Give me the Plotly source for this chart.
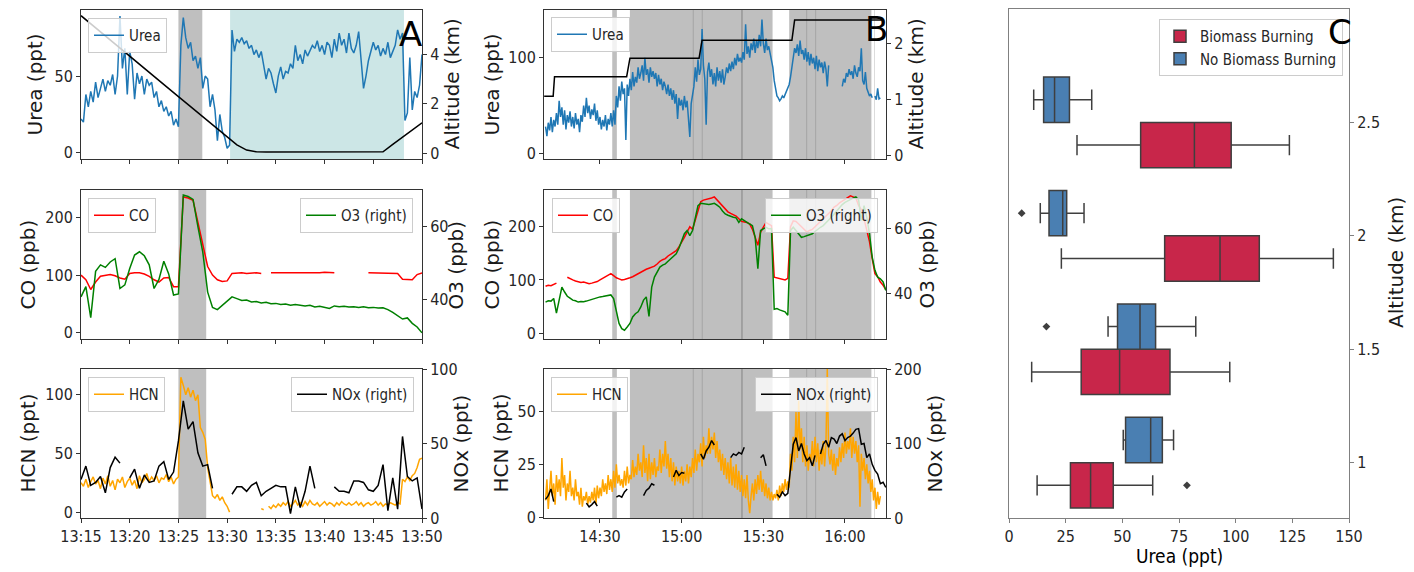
import pandas as pd
import plotly.graph_objects as go

W, H = 1414, 572
OFF = 8  # the page body margin shifts the figure by 8 px
DAY = "2019-08-03 "
FONT = "DejaVu Sans"
HFONT = "DejaVu Sans Condensed, DejaVu Sans"

# ---------------- Panel A (13:15-13:50) ----------------
A_START = "13:15:00"
# urea, every 15 s
a_urea = [22, 20, 38, 30, 40, 33, 46, 36, 42, 48,
          40, 47, 44, 51, 38, 50, 89, 55, 68, 38,
          66, 58, 35, 52, 45, 50, 38, 48, 44, 46,
          36, 40, 30, 34, 27, 30, 24, 27, 18, 22,
          17, 70, 88, 75, 68, 72, 60, 63, 55, 62,
          42, 50, 48, 30, 38, 28, 8, 25, 14, 10,
          3, 5, 80, 66, 74, 72, 75, 71, 73, 68,
          70, 64, 67, 62, 66, 58, 48, 55, 52, 45,
          39, 50, 56, 48, 53, 52, 58, 55, 70, 60,
          64, 58, 67, 63, 66, 70, 68, 73, 66, 70,
          64, 72, 70, 62, 74, 66, 78, 70, 74, 65,
          78, 68, 65, 70, 79, 58, 42, 50, 60, 66,
          72, 67, 70, 63, 68, 64, 72, 62, 66, 70,
          80, 74, 78, 21, 26, 62, 28, 40, 36, 44,
          64]
# altitude (km), every 1 min
a_alt = [5.55, 5.22, 4.9, 4.57, 4.24, 3.92, 3.59, 3.26, 2.94, 2.61, 2.28, 1.96,
         1.63, 1.3, 0.97, 0.65, 0.33, 0.12, 0.05,
         0.04, 0.04, 0.04, 0.04, 0.04, 0.04, 0.04, 0.04, 0.04, 0.04, 0.04, 0.04,
         0.05, 0.35, 0.65, 0.95, 1.22]
# CO (ppb), every 30 s
a_co = [100, 92, 75, 88, 98, 100, 101, 99, 95, 93,
        103, 104, 104, 102, 98, 92, 88, 95, 96, 80,
        80, 236, 234, 230, 190, 155, 115, 100, 92, 89,
        90, 103, 104, 104, 103, 104, 104, 103, None, 104,
        104, 103, 104, 104, 103, 104, 104, 103, 104, 104,
        105, 104, 104, None, None, None, None, None, None, 104,
        104, 103, 104, 104, 104, 103, 93, 92, 92, 101,
        104]
# O3 (ppb), every 30 s
a_o3 = [40.7, 43.5, 35.0, 47.7, 49.5, 48.8, 50.3, 51.2, 43.0, 44.0,
        48.5, 52.2, 53.1, 52.0, 49.5, 43.0, 45.5, 50.5, 47.0, 41.2,
        41.5, 68.7, 68.3, 67.5, 60.0, 53.0, 42.0, 37.8, 37.2, 38.3,
        39.5, 40.7, 40.2, 39.7, 39.8, 39.3, 39.4, 39.0, 39.2, 38.8,
        38.9, 38.6, 38.7, 38.4, 38.6, 38.3, 38.2, 38.4, 37.9, 38.1,
        37.7, 37.5, 38.2, 38.0, 38.1, 37.9, 38.0, 37.8, 38.0, 37.7,
        37.8, 37.6, 37.7, 37.2, 36.4, 35.5, 34.6, 34.9, 33.4, 32.4,
        30.8]
# HCN (ppt), every 15 s
a_hcn = [25, 22, 28, 21, 26, 30, 24, 27, 20, 29,
         24, 31, 22, 27, 19, 28, 25, 30, 21, 26,
         29, 23, 27, 20, 31, 25, 28, 33, 26, 30,
         27, 31, 25, 29, 28, 32, 26, 30, 24, 28,
         30, 115, 108, 100, 106, 98, 104, 95, 100, 72,
         68, 62, 38, 25, 14, 12, 15, 10, 13, 8,
         5, 0, None, None, None, None, None, None, None, None,
         None, None, None, None, 3, 2, None, 5, 3, 6,
         4, 7, 5, 8, 6, 9, 5, 7, 10, 6,
         8, 5, 9, 6, 10, 7, 6, 8, 5, 7,
         9, 6, 8, 7, 5, 8, 6, 9, 7, 6,
         8, 6, 7, 9, 6, 8, 5, 7, 8, 6,
         7, 9, 6, 8, 5, 7, 6, 8, 7, 6,
         8, 7, 28, 26, 30, 27, 31, 33, 38, 45,
         46]
# NOx (ppt), every 30 s
a_nox = [26, 35, 22, 24, 28, 17, 34, 41, 37, None,
         27, 33, 20, 29, 24, 25, 35, 38, 26, 31,
         52, 79, 60, 65, 44, 35, 36, 20, None, None,
         None, 16, 21, 21, 18, 22, 24, 15, 18, 20,
         22, 21, 21, 3, 21, 7, 18, 35, 20, None,
         None, None, 21, 18, 18, 17, 25, 25, 24, 19,
         18, 22, 36, 5, 27, 6, 55, 28, 25, 27,
         6]

# ---------------- Panel B (14:10-16:15) ----------------
B_START = "14:10:00"
# urea, every 30 s
b_urea = [28, 18, 32, 24, 38, 22, 35, 28, 42, 30,
          55, 38, 48, 30, 45, 25, 40, 32, 44, 28,
          38, 26, 42, 30, 36, 22, 40, 33, 50, 38,
          58, 42, 50, 36, 46, 40, 52, 34, 45, 30,
          38, 25, 35, 28, 40, 24, 36, 30, 42, 28,
          45, 30, 60, 48, 70, 55, 75, 62, 68, 14,
          72, 60, 78, 66, 85, 70, 80, 74, 90, 78,
          84, 92, 76, 100, 82, 88, 74, 90, 80, 86,
          78, 84, 70, 82, 72, 78, 66, 75, 70, 62,
          72, 60, 68, 56, 66, 52, 62, 36, 58, 50,
          56, 45, 60, 48, 55, 35, 17, 52, 62, 70,
          90, 75, 98, 82, 88, 130, 92, 78, 30, 85,
          95, 80, 88, 72, 84, 70, 90, 76, 86, 74,
          88, 72, 80, 90, 84, 94, 86, 96, 88, 100,
          92, 104, 96, 100, 95, 106, 98, 135, 104, 112,
          100, 115, 108, 120, 105, 118, 110, 124, 112, 140,
          115, 105, 120, 108, 112, 104, 100, 90, 76, 66,
          60, 58, 55, 57, 60, 58, 62, 64, 68, 72,
          80, 92, 100, 110, 105, 114, 102, 118, 104, 108,
          98, 110, 96, 106, 92, 104, 94, 100, 88, 102,
          86, 98, 90, 95, 84, 96, 88, 70, 92, None,
          None, None, None, None, None, None, None, None, 70, 78,
          74, 84, 80, 88, 82, 86, 78, 92, 84, 80,
          90, 86, 110, 76, 72, 85, 68, 64, 60, 62,
          58, None, 60, 56, 68, 57, 58]
# altitude (km), step profile
b_alt_time = ["14:09:30", "14:12:48", "14:13:18", "14:39:48", "14:41:00",
              "15:06:24", "15:07:30", "15:40:30", "15:41:30", "16:13:30"]
b_alt = [1.05, 1.05, 1.4, 1.4, 1.73, 1.73, 2.05, 2.05, 2.41, 2.41]
# CO (ppb), every 1 min
b_co = [88, 90, 89, 91, 94, None, None, None, 105, 102,
        100, 98, 97, 95, 96, 94, 93, 94, 95, 97,
        100, 103, 105, 108, 112, 108, 104, 102, 100, 101,
        102, 104, 106, 109, 112, 115, 118, 120, 122, 124,
        126, 130, 135, 138, 140, 145, 148, 152, 155, 162,
        170, 180, 190, 200, 195, 212, 230, 247, 250, 251,
        252, 254, 256, 250, 245, 240, 233, 228, 225, 222,
        220, 215, 210, 209, 208, 205, 195, 180, 165, 190,
        200, 208, 205, 202, 105, 104, 102, 101, 100, 103,
        200, 211, 210, 205, 200, 195, 190, 193, 195, 200,
        205, 210, 215, 220, 225, 230, 237, 240, 245, 248,
        252, 254, 258, 256, 254, 240, 232, 215, 195, 172,
        140, 112, 106, 96, 90, 82]
# O3 (ppb), every 1 min
b_o3 = [37.4, 37.8, 37.7, 38.5, 34.0, 38.2, 42.0, 40.5, 39.2, 38.6,
        38.0, 37.8, 37.4, 37.6, 37.5, 37.7, 38.0, 38.3, 38.5, 38.8,
        39.0, 39.1, 39.2, 39.4, 39.6, 38.5, 34.9, 30.8, 29.2, 28.7,
        29.7, 30.8, 32.8, 33.8, 34.4, 35.9, 38.0, 39.0, 33.0, 42.0,
        45.1, 46.7, 48.2, 48.8, 49.2, 50.0, 50.8, 51.5, 52.3, 54.0,
        56.4, 58.5, 59.5, 57.9, 59.5, 63.6, 67.2, 67.9, 67.7, 67.6,
        67.5, 67.7, 67.9, 67.3, 66.7, 65.5, 64.6, 64.2, 63.8, 63.6,
        63.4, 62.0, 63.1, 62.5, 62.0, 61.5, 61.0, 57.4, 47.7, 59.5,
        60.0, 60.5, 60.0, 60.0, 35.2, 35.4, 35.0, 34.8, 34.4, 33.3,
        59.5, 60.5, 59.5, 58.5, 57.4, 57.6, 57.9, 58.2, 58.5, 59.2,
        60.0, 60.5, 61.0, 61.8, 62.6, 63.6, 64.6, 65.6, 66.7, 67.5,
        68.2, 68.7, 69.2, 69.5, 69.9, 69.0, 62.6, 67.2, 63.6, 58.5,
        51.3, 47.2, 45.1, 44.6, 43.6, 41.0]
# HCN (ppt), every 30 s
b_hcn = [8, 18, 4, 14, 22, 10, 16, 6, 20, 12,
         18, 10, 28, 14, 20, 8, 16, 12, 22, 10,
         14, 8, 18, 10, 12, 6, 14, 5, 10, 8,
         12, 6, 10, 7, 12, 8, 14, 6, 15, 9,
         14, 10, 18, 12, 16, 11, 20, 13, 18, 12,
         22, 14, 25, 16, 20, 15, 18, 14, 22, 15,
         24, 16, 20, 18, 27, 19, 24, 20, 30, 22,
         26, 19, 34, 21, 28, 17, 30, 18, 26, 20,
         28, 19, 24, 22, 32, 21, 30, 24, 36, 23,
         30, 19, 28, 17, 26, 15, 24, 17, 22, 16,
         24, 15, 22, 17, 25, 16, 24, 19, 28, 21,
         32, 22, 30, 26, 35, 24, 38, 28, 34, 30,
         42, 30, 38, 32, 40, 28, 36, 26, 32, 22,
         30, 20, 28, 18, 26, 16, 28, 15, 24, 14,
         25, 13, 22, 12, 20, 10, 18, 9, 20, 8,
         2, 10, 16, 8, 18, 11, 20, 13, 22, 12,
         18, 10, 16, 9, 14, 8, 12, 8, 11, 9,
         13, 8, 15, 10, 16, 12, 18, 13, 17, 14,
         30, 22, 38, 26, 50, 28, 55, 32, 42, 26,
         38, 24, 34, 22, 30, 26, 36, 24, 38, 26,
         35, 22, 32, 25, 36, 24, 34, 70, 30, 25,
         32, 22, 30, 20, 28, 24, 33, 26, 35, 28,
         40, 30, 36, 32, 42, 28, 38, 30, 36, 26,
         34, 5, 30, 22, 28, 18, 25, 16, 22, 12,
         18, 8, 14, 4, 12, 6, 10]
# NOx (ppt), every 1 min
b_nox = [25, 30, 39, 22, None, None, None, None, None, None,
         None, None, None, None, None, 20, 15, 18, 22, 16,
         None, None, None, None, None, None, 28, 30, 28, 35,
         39, None, None, None, None, None, 30, 37, 40, 46,
         44, None, None, None, None, None, None, 55, 64, 57,
         61, 60, None, None, None, None, None, 86, 79, 90,
         95, 104, 98, None, None, None, None, None, 81, 86,
         84, 88, 86, 95, None, None, None, None, None, 81,
         85, 70, None, None, None, 32, 28, 35, 30, 33,
         68, 99, 108, 90, 100, 86, 77, 81, 70, 84,
         None, 86, 99, 104, 95, 108, 106, 100, 110, 113,
         104, 108, 110, 114, 119, 120, 99, 100, 81, 86,
         72, 64, 59, 46, 48, 41]

# Biomass-burning intervals (shaded)
a_bb_top = [("13:25:00", "13:27:27")]
a_clean_top = [("13:30:18", "13:48:09")]
a_bb = [("13:25:00", "13:27:51")]
b_bb = [("14:34:30", "14:36:12"), ("14:41:00", "15:04:24"), ("15:04:06", "15:07:42"),
        ("15:07:24", "15:22:30"), ("15:21:48", "15:33:24"), ("15:39:30", "15:46:06"),
        ("15:45:48", "15:49:24"), ("15:49:06", "16:09:42"), ("16:10:48", "16:11:00")]

# ---------------- Panel C: urea by altitude ----------------
alt_levels = [1.0, 1.5, 2.0, 2.5]
bb_10 = [12.4, 20, 25, 27.8, 30, 33, 36.0, 39, 42, 44.0, 52, 63.4, 78.5]
bb_15 = [10.0, 18, 26, 33.8, 38, 44, 48.8, 55, 62, 68.7, 78, 88, 97.4]
bb_20 = [23.1, 28.2, 42.5, 77.4, 82, 88, 93.1, 98, 103, 107.9, 118, 130, 143.1]
bb_25 = [30.0, 42, 52, 60.1, 68, 75, 81.8, 86, 91, 95.7, 105, 115, 123.7]
nobb_10 = [50.4, 50.8, 51.2, 51.5, 55, 59, 62.5, 64, 66, 67.2, 69, 71, 72.6]
nobb_15 = [16.5, 43.7, 46, 48.5, 52, 55, 57.8, 60, 61.5, 62.9, 70, 77, 82.4]
nobb_20 = [5.6, 13.8, 16, 18.2, 20, 22, 23.7, 24.0, 24.3, 24.6, 28, 31, 33.1]
nobb_25 = [10.9, 12.5, 14, 15.7, 17, 19, 20.1, 22, 24, 25.9, 29, 33, 36.5]


# ---------------- helpers ----------------
def fx(px):
    return (px - OFF) / W


def fy(px):
    return 1 - (px - OFF) / H


def tgrid(start, n, sec):
    return pd.date_range(DAY + start, periods=n, freq=f"{sec}s")


def tt(s):
    return DAY + s


def xn(i):
    return "x" if i == 1 else f"x{i}"


def yn(i):
    return "y" if i == 1 else f"y{i}"


def xk(i):
    return "xaxis" if i == 1 else f"xaxis{i}"


def yk(i):
    return "yaxis" if i == 1 else f"yaxis{i}"


def lk(i):
    return "legend" if i == 1 else f"legend{i}"


SPINE = "#333333"
AX = dict(showgrid=False, zeroline=False, showline=True, linecolor=SPINE, linewidth=1,
          ticks="outside", ticklen=4, tickwidth=1, tickcolor=SPINE, automargin=False,
          tickfont=dict(family=HFONT, size=16, color="#262626"))

col_x = {"A": (81, 422), "B": (544, 886)}
row_y = [(10, 159), (190, 339), (369, 518)]
x_range = {"A": [tt("13:15:00"), tt("13:50:00")], "B": [tt("14:09:26"), tt("16:15:04")]}
x_tick = {"A": (tt("13:15:00"), 5 * 60000), "B": (tt("14:30:00"), 30 * 60000)}

# left range, left ticks, right range, right ticks
yspec = {
    ("A", 0): ([-4, 93], [0, 50], [-0.24, 5.78], [0, 2, 4]),
    ("A", 1): ([-11, 248], [0, 100, 200], [29.1, 70.1], [40, 60]),
    ("A", 2): ([-5, 122], [0, 50, 100], [0, 100.5], [0, 50, 100]),
    ("B", 0): ([-6, 150], [0, 100], [-0.07, 2.59], [0, 1, 2]),
    ("B", 1): ([-11, 269], [0, 100, 200], [26, 72], [40, 60]),
    ("B", 2): ([-0.3, 70], [0, 25, 50], [0, 200], [0, 100, 200]),
}

layout = dict(width=W, height=H, margin=dict(l=0, r=0, t=0, b=0, autoexpand=False),
              paper_bgcolor="white", plot_bgcolor="white",
              boxmode="group", boxgap=0.2, boxgroupgap=0.0,
              shapes=[], annotations=[])

k = 0
for col in ["A", "B"]:
    for row in range(3):
        k += 1
        xi, yl, yr = k, 2 * k - 1, 2 * k
        x0, x1 = col_x[col]
        y0, y1 = row_y[row]
        t0, dt = x_tick[col]
        layout[xk(xi)] = dict(AX, domain=[fx(x0), fx(x1)], anchor=yn(yl), range=x_range[col],
                              type="date", tick0=t0, dtick=dt, tickformat="%H:%M",
                              mirror=True, showticklabels=(row == 2))
        lr, lt, rr, rt = yspec[(col, row)]
        layout[yk(yl)] = dict(AX, domain=[fy(y1), fy(y0)], anchor=xn(xi), range=lr,
                              tickvals=lt, ticktext=[str(v) for v in lt])
        layout[yk(yr)] = dict(AX, domain=[fy(y1), fy(y0)], anchor=xn(xi), range=rr,
                              overlaying=yn(yl), side="right",
                              tickvals=rt, ticktext=[str(v) for v in rt])

GRAY = "rgba(128,128,128,0.5)"
CYAN = "rgba(0,128,128,0.2)"


def add_spans(spans, xi, yl, color):
    for s, e in spans:
        layout["shapes"].append(dict(type="rect", xref=xn(xi), yref=f"{yn(yl)} domain",
                                     x0=tt(s), x1=tt(e), y0=0, y1=1, fillcolor=color,
                                     line=dict(width=0), layer="below"))


add_spans(a_bb_top, 1, 1, GRAY)
add_spans(a_clean_top, 1, 1, CYAN)
add_spans(a_bb, 2, 3, GRAY)
add_spans(a_bb, 3, 5, GRAY)
for xi in (4, 5, 6):
    add_spans(b_bb, xi, 2 * xi - 1, GRAY)

fig = go.Figure()


def line(x, y, xi, yi, name, color, legend=None, show=True):
    fig.add_trace(go.Scatter(x=x, y=y, mode="lines", name=name,
                             line=dict(color=color, width=1.5),
                             xaxis=xn(xi), yaxis=yn(yi), showlegend=show,
                             legend=legend if legend else "legend"))


BLUE = "#1f77b4"
# Panel A
line(tgrid(A_START, len(a_urea), 15), a_urea, 1, 1, "Urea", BLUE, lk(1))
line(tgrid(A_START, len(a_alt), 60), a_alt, 1, 2, "Altitude", "black", show=False)
line(tgrid(A_START, len(a_co), 30), a_co, 2, 3, "CO", "red", lk(2))
line(tgrid(A_START, len(a_o3), 30), a_o3, 2, 4, "O3 (right)", "green", lk(3))
line(tgrid(A_START, len(a_hcn), 15), a_hcn, 3, 5, "HCN", "orange", lk(4))
line(tgrid(A_START, len(a_nox), 30), a_nox, 3, 6, "NOx (right)", "black", lk(5))
# Panel B
line(tgrid(B_START, len(b_urea), 30), b_urea, 4, 7, "Urea", BLUE, lk(6))
line([tt(s) for s in b_alt_time], b_alt, 4, 8, "Altitude", "black", show=False)
line(tgrid(B_START, len(b_co), 60), b_co, 5, 9, "CO", "red", lk(7))
line(tgrid(B_START, len(b_o3), 60), b_o3, 5, 10, "O3 (right)", "green", lk(8))
line(tgrid(B_START, len(b_hcn), 30), b_hcn, 6, 11, "HCN", "orange", lk(9))
line(tgrid(B_START, len(b_nox), 60), b_nox, 6, 12, "NOx (right)", "black", lk(10))

# Panel C boxes
EDGE = "#3f3f3f"
for name, color, groups in [("Biomass Burning", "#c8264a", [bb_10, bb_15, bb_20, bb_25]),
                            ("No Biomass Burning", "#4a7fb2", [nobb_10, nobb_15, nobb_20, nobb_25])]:
    xs, ys = [], []
    for lvl, arr in zip(alt_levels, groups):
        xs += arr
        ys += [lvl] * len(arr)
    fig.add_trace(go.Box(x=xs, y=ys, orientation="h", name=name, fillcolor=color,
                         line=dict(color=EDGE, width=1.5), whiskerwidth=0.45,
                         boxpoints="outliers", quartilemethod="linear",
                         marker=dict(symbol="diamond", size=6, color=EDGE),
                         xaxis="x7", yaxis="y13", legend=lk(11)))

layout["xaxis7"] = dict(AX, domain=[fx(1009), fx(1349)], anchor="y13", range=[0, 150],
                        tickvals=[0, 25, 50, 75, 100, 125, 150], mirror=True,
                        linecolor="#808080", tickcolor="#808080")
layout["yaxis13"] = dict(AX, domain=[fy(518), fy(9)], anchor="x7", range=[0.756, 3.0],
                         side="right", mirror=True, tickvals=alt_levels,
                         ticktext=["1", "1.5", "2", "2.5"],
                         linecolor="#808080", tickcolor="#808080")


# legends
def leg(xpx, ypx, right=False, size=15):
    return dict(x=fx(xpx), y=fy(ypx), xanchor="right" if right else "left", yanchor="top",
                bgcolor="rgba(255,255,255,0.8)", bordercolor="#cccccc", borderwidth=1,
                font=dict(family=HFONT, size=size, color="#262626"), itemwidth=30)


layout[lk(1)] = leg(88, 18)
layout[lk(2)] = leg(88, 198)
layout[lk(3)] = leg(413, 198, right=True)
layout[lk(4)] = leg(88, 377)
layout[lk(5)] = leg(414, 377, right=True)
layout[lk(6)] = leg(551, 17)
layout[lk(7)] = leg(552, 198)
layout[lk(8)] = leg(878, 198, right=True)
layout[lk(9)] = leg(551, 377)
layout[lk(10)] = leg(878, 377, right=True)
layout[lk(11)] = leg(1343, 19, right=True, size=15)


def vtitle(text, xpx, ypx):
    layout["annotations"].append(dict(text=text, x=fx(xpx), y=fy(ypx), xref="paper", yref="paper",
                                      textangle=-90, showarrow=False, xanchor="center",
                                      yanchor="middle", font=dict(family=FONT, size=20, color="#1a1a1a")))


def htext(text, xpx, ypx, size, fam=HFONT):
    layout["annotations"].append(dict(text=text, x=fx(xpx), y=fy(ypx), xref="paper", yref="paper",
                                      showarrow=False, xanchor="center", yanchor="middle",
                                      font=dict(family=fam, size=size, color="black")))


ymid = [(a + b) / 2 for a, b in row_y]
vtitle("Urea (ppt)", 34, ymid[0])
vtitle("CO (ppb)", 27, ymid[1])
vtitle("HCN (ppt)", 27, ymid[2])
vtitle("Altitude (km)", 451, ymid[0])
vtitle("O3 (ppb)", 455, ymid[1])
vtitle("NOx (ppt)", 460, ymid[2])
vtitle("Urea (ppt)", 491, ymid[0])
vtitle("CO (ppb)", 491, ymid[1])
vtitle("HCN (ppt)", 500, ymid[2])
vtitle("Altitude (km)", 915, ymid[0])
vtitle("O3 (ppb)", 926, ymid[1])
vtitle("NOx (ppt)", 934, ymid[2])
vtitle("Altitude (km)", 1396, 263)
htext("Urea (ppt)", 1179, 556, 19)
htext("A", 410, 34, 34, FONT)
htext("B", 877, 29, 34, FONT)
htext("C", 1340, 32, 34, FONT)

fig.update_layout(**layout)
fig.write_html("out.html")
